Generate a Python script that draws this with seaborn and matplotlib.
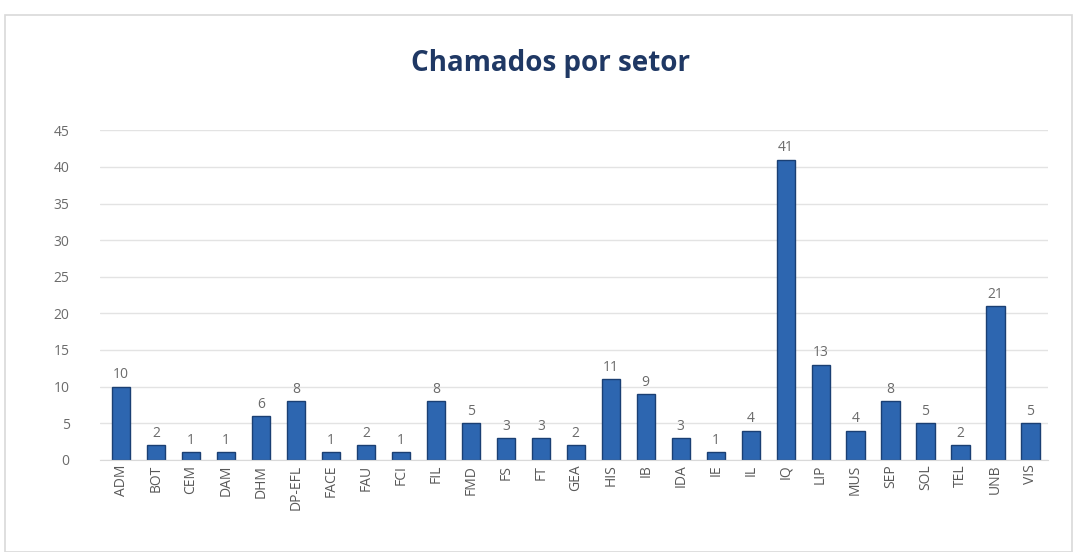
import matplotlib
matplotlib.use("Agg")
import matplotlib.pyplot as plt
import seaborn as sns
import pandas as pd
from matplotlib.patches import Rectangle

setores = ["ADM", "BOT", "CEM", "DAM", "DHM", "DP-EFL", "FACE", "FAU", "FCI",
           "FIL", "FMD", "FS", "FT", "GEA", "HIS", "IB", "IDA", "IE", "IL",
           "IQ", "LIP", "MUS", "SEP", "SOL", "TEL", "UNB", "VIS"]
chamados = [10, 2, 1, 1, 6, 8, 1, 2, 1, 8, 5, 3, 3, 2, 11, 9, 3, 1, 4,
            41, 13, 4, 8, 5, 2, 21, 5]

df = pd.DataFrame({"setor": setores, "chamados": chamados})

sns.set_style("white")
plt.rcParams['font.family'] = ['Open Sans', 'DejaVu Sans']

fig = plt.figure(figsize=(10.77, 5.52), dpi=100)
# moldura do grafico
fig.patches.append(Rectangle((0.005, 0.0), 0.99, 0.972, transform=fig.transFigure,
                             fill=False, edgecolor="#d9d9d9", linewidth=1.2))
ax = fig.add_axes([0.093, 0.167, 0.880, 0.597])

sns.barplot(data=df, x="setor", y="chamados", color="#2d66b0", saturation=1,
            width=0.52, edgecolor="#1a3f73", linewidth=1.0, ax=ax)

for c in ax.containers:
    ax.bar_label(c, fmt="%d", padding=3, fontsize=10, color="#6b6b6b")

ax.set_ylim(0, 45)
ax.set_yticks(range(0, 46, 5))
ax.yaxis.grid(True, color="#e3e3e3", linewidth=1)
ax.set_axisbelow(True)
ax.set_xlim(-0.6, len(setores) - 0.5)
ax.set_xlabel("")
ax.set_ylabel("")
for s in ["top", "right", "left"]:
    ax.spines[s].set_visible(False)
ax.spines["bottom"].set_color("#d9d9d9")
ax.tick_params(axis="x", rotation=90, labelsize=10, colors="#595959", length=0)
ax.tick_params(axis="y", labelsize=10, colors="#6b6b6b", length=0, pad=22)

fig.text(0.511, 0.885, "Chamados por setor", ha="center", va="center",
         fontsize=20, fontweight="bold", color="#1f3864")

fig.savefig("out.png", dpi=100)
